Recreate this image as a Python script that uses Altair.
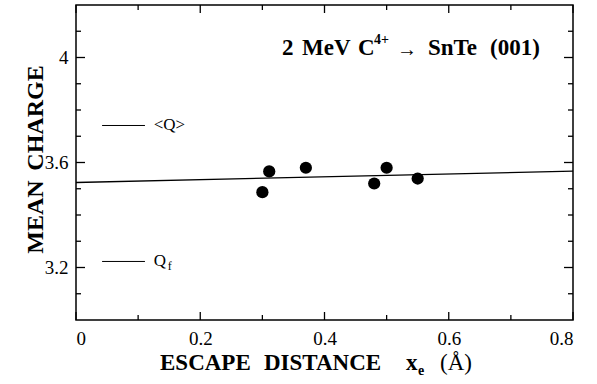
import altair as alt
import pandas as pd

# ---- data ----
escape_x = [0.300, 0.311, 0.370, 0.480, 0.500, 0.550]
mean_charge = [3.487, 3.566, 3.580, 3.520, 3.580, 3.539]

fit_x = [0.0, 0.8]
fit_y = [3.524, 3.567]

ref_names = ["<Q>", "Q"]
ref_levels = [3.741, 3.223]
ref_x0 = 0.042
ref_x1 = 0.111
ref_label_x = 0.125

x_major = [0.0, 0.2, 0.4, 0.6, 0.8]
x_minor = [0.1, 0.3, 0.5, 0.7]
y_major = [3.2, 3.6, 4.0]
y_minor = [3.1, 3.3, 3.4, 3.5, 3.7, 3.8, 3.9, 4.1]

W, H = 497, 315
SERIF = "Liberation Serif"

xs = alt.Scale(domain=[0, 0.8], nice=False, zero=False)
ys = alt.Scale(domain=[3.0, 4.2], nice=False, zero=False)
xaxis = alt.Axis(values=x_major, format="~g", title="", labelPadding=9)
yaxis = alt.Axis(values=y_major, format="~g", title="", labelPadding=8)


def X(field):
    return alt.X(field, scale=xs, axis=xaxis)


def Y(field):
    return alt.Y(field, scale=ys, axis=yaxis)


pts = pd.DataFrame({"x": escape_x, "y": mean_charge})
fit = pd.DataFrame({"x": fit_x, "y": fit_y})
refs = pd.DataFrame({"name": ref_names, "y": ref_levels,
                     "x0": [ref_x0] * 2, "x1": [ref_x1] * 2,
                     "lx": [ref_label_x] * 2})

points = alt.Chart(pts).mark_circle(size=150, color="black", opacity=1).encode(
    x=X("x:Q"), y=Y("y:Q"),
)

fit_line = alt.Chart(fit).mark_line(color="black", strokeWidth=1.4).encode(
    x=X("x:Q"), y=Y("y:Q")
)

ref_lines = alt.Chart(refs).mark_rule(color="black", strokeWidth=1).encode(
    x=X("x0:Q"), x2="x1:Q", y=Y("y:Q")
)
ref_text = alt.Chart(refs).mark_text(
    align="left", baseline="middle", font=SERIF, fontSize=17, color="black"
).encode(x=X("lx:Q"), y=Y("y:Q"), text="name:N")
# subscript f of Q_f
sub_f = alt.Chart(refs[refs["name"] == "Q"]).mark_text(
    align="left", baseline="middle", font=SERIF, fontSize=12, color="black",
    dx=14, dy=5, text="f"
).encode(x=X("lx:Q"), y=Y("y:Q"))


def ticks_x(vals, length):
    d = pd.DataFrame({"v": vals})
    b = alt.Chart(d).mark_rule(color="black", strokeWidth=1.3)
    bottom = b.encode(x=X("v:Q"), y=alt.value(H), y2=alt.value(H - length))
    top = b.encode(x=X("v:Q"), y=alt.value(0), y2=alt.value(length))
    return [bottom, top]


def ticks_y(vals, length):
    d = pd.DataFrame({"v": vals})
    b = alt.Chart(d).mark_rule(color="black", strokeWidth=1.3)
    left = b.encode(y=Y("v:Q"), x=alt.value(0), x2=alt.value(length))
    right = b.encode(y=Y("v:Q"), x=alt.value(W), x2=alt.value(W - length))
    return [left, right]


one = pd.DataFrame({"a": [0]})


def label(text, x, y, size, bold=True, align="left", baseline="alphabetic", angle=0):
    kw = dict(align=align, baseline=baseline, font=SERIF, fontSize=size,
              fontWeight="bold" if bold else "normal", color="black", text=text)
    if angle:
        kw["angle"] = angle
    return alt.Chart(one).mark_text(**kw).encode(x=alt.value(x), y=alt.value(y))


texts = [
    # figure title: 2 MeV C4+ -> SnTe (001)
    label("2", 206, 50, 23),
    label("MeV", 226, 50, 23),
    label("C", 282, 50, 23),
    label("4+", 298, 39, 14),
    label("\u2192", 331, 45, 20, bold=False, align="center", baseline="middle"),
    label("SnTe", 352, 50, 23),
    label("(001)", 414, 50, 23),
    # x-axis title
    label("ESCAPE", 84, 365, 23),
    label("DISTANCE", 188, 365, 23),
    label("x", 330, 365, 23),
    label("e", 342, 370, 14),
    label("(\u00c5)", 364, 365, 23, bold=False),
    # y-axis title
    label("MEAN", -33, 212, 24, align="center", angle=270),
    label("CHARGE", -33, 113, 24, align="center", angle=270),
]

layers = ([ref_lines, ref_text, sub_f, fit_line, points]
          + ticks_x(x_major, 8) + ticks_x(x_minor, 5)
          + ticks_y(y_major, 9) + ticks_y(y_minor, 5)
          + texts)

chart = alt.layer(*layers).properties(
    width=W, height=H,
    autosize=alt.AutoSizeParams(type="none"),
    padding={"left": 76, "top": 5, "right": 24, "bottom": 64},
    background="white",
).configure_view(
    stroke="black", strokeWidth=1.5
).configure_axis(
    labelFont=SERIF, labelFontSize=19, labelColor="black",
    domain=False, ticks=False, grid=False,
)

chart.save("out.html", embed_options={"renderer": "svg", "actions": False})
